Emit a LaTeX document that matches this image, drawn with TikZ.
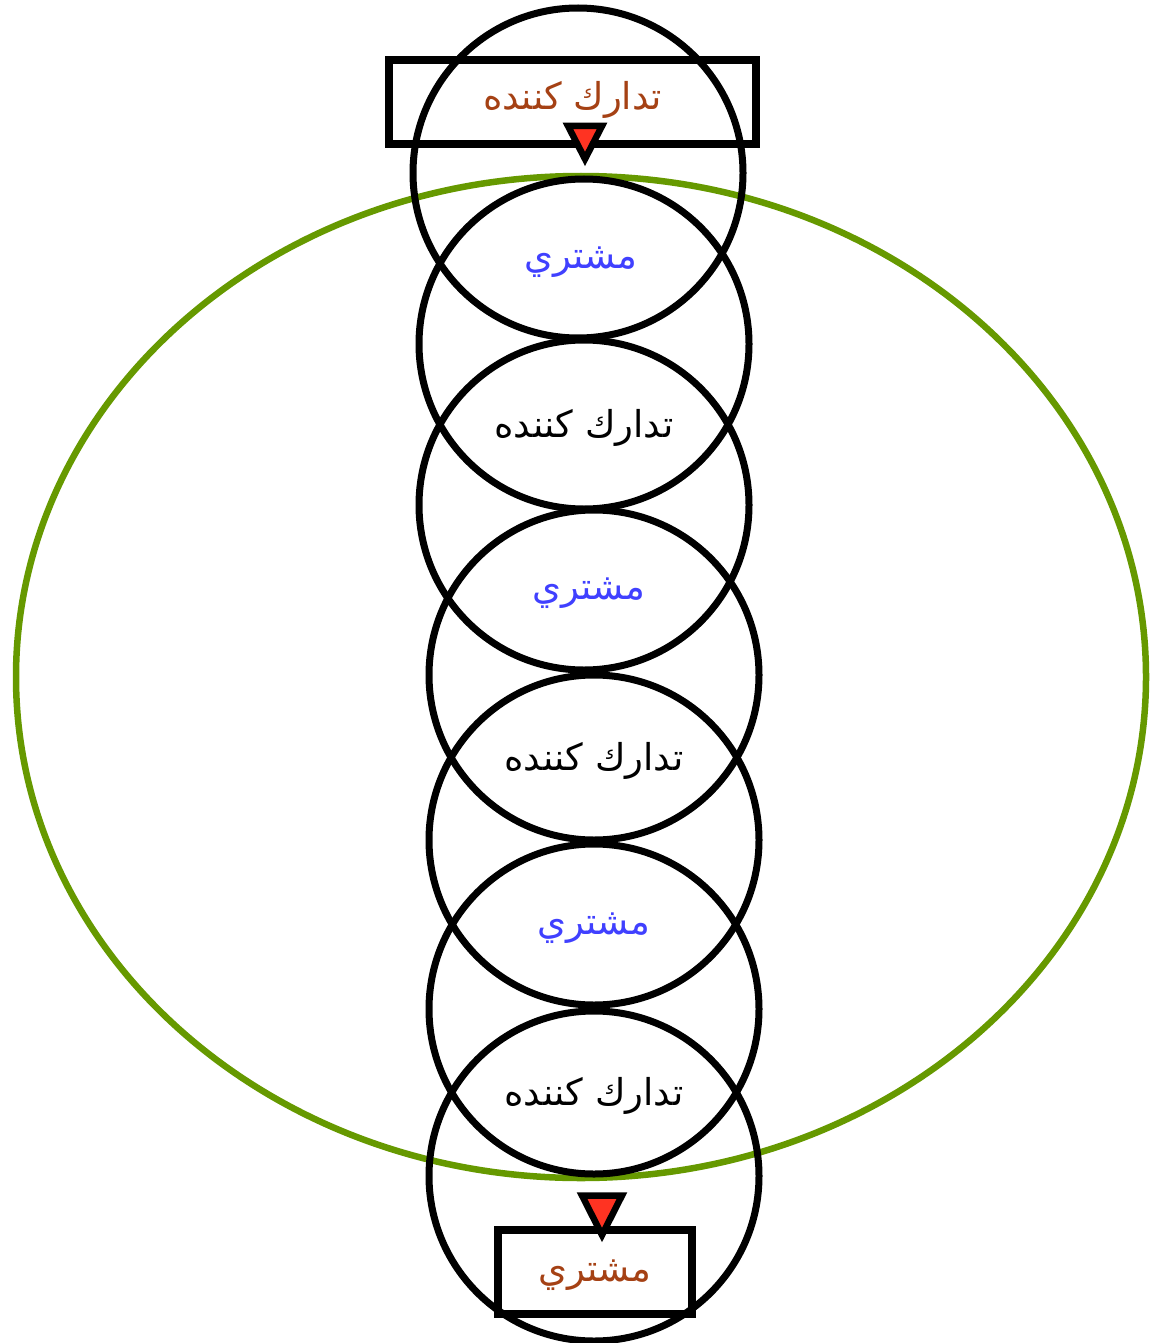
\documentclass[tikz,border=0pt]{standalone}
\usepackage{fontspec}
\usetikzlibrary{calc}
\TeXXeTstate=1
\newfontfamily\arabicfont[Script=Arabic]{DejaVu Sans}
\definecolor{ringgreen}{RGB}{102,153,0}
\definecolor{lblblue}{RGB}{64,64,255}
\definecolor{lblbrown}{RGB}{165,65,20}
\definecolor{tipred}{RGB}{255,51,34}
\begin{document}
\begin{tikzpicture}[x=1pt,y=-1pt,
  ring/.style={draw=black,line width=7pt,circle,inner sep=0pt,minimum size=330pt},
  lbl/.style={font=\arabicfont\fontsize{37}{40}\selectfont,inner sep=0pt,yshift=-3.5pt},
  namebox/.style={draw=black,line width=8pt,inner sep=0pt,minimum height=84pt},
  boxtext/.style={font=\arabicfont\fontsize{37}{40}\selectfont,inner sep=0pt,text=lblbrown},
  redtip/.style={fill=tipred,draw=black,line width=6.5pt,line join=miter}
]
\useasboundingbox (0,0) rectangle (1149,1343);
% outer green ellipse
\draw[draw=ringgreen,line width=6.5pt] (581,677) ellipse [x radius=565pt, y radius=501pt];
% chain of circles
\node[ring] (c1) at (578,173) {};
\node[ring] (c2) at (584,344) {};
\node[ring] (c3) at (584,505) {};
\node[ring] (c4) at (594,675) {};
\node[ring] (c5) at (594,840) {};
\node[ring] (c6) at (594,1009) {};
\node[ring] (c7) at (594,1176) {};
% labels in the overlaps
\node[lbl,text=lblblue] (l1) at ($(c1)!0.5!(c2)$) {\beginR مشتري\endR};
\node[lbl,text=black] (l2) at ($(c2)!0.5!(c3)$) {\beginR تدارك كننده\endR};
\node[lbl,text=lblblue] (l3) at ($(c3)!0.5!(c4)$) {\beginR مشتري\endR};
\node[lbl,text=black] (l4) at ($(c4)!0.5!(c5)$) {\beginR تدارك كننده\endR};
\node[lbl,text=lblblue] (l5) at ($(c5)!0.5!(c6)$) {\beginR مشتري\endR};
\node[lbl,text=black] (l6) at ($(c6)!0.5!(c7)$) {\beginR تدارك كننده\endR};
% boxes
\node[namebox,minimum width=367pt] (top) at (572.5,102) {};
\node[boxtext] (toptext) at ($(top.center)+(0,-2)$) {\beginR تدارك كننده\endR};
\node[namebox,minimum width=194pt] (bot) at (595,1271.5) {};
\node[boxtext] (bottext) at ($(bot.center)+(0,4)$) {\beginR مشتري\endR};
% arrow heads
\coordinate (tip1) at (585,159);
\coordinate (tip2) at (602,1235);
\draw[redtip] ($(tip1)+(-17,-33)$) -- (tip1) -- ($(tip1)+(17,-33)$) -- cycle;
\draw[redtip] ($(tip2)+(-20,-39.5)$) -- (tip2) -- ($(tip2)+(20,-39.5)$) -- cycle;
\end{tikzpicture}
\end{document}
